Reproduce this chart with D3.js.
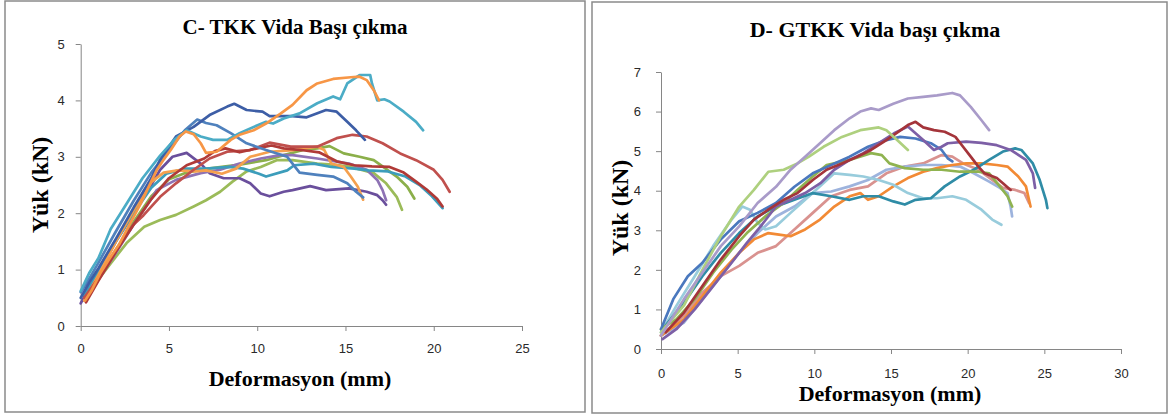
<!DOCTYPE html>
<html>
<head>
<meta charset="utf-8">
<script src="https://cdn.jsdelivr.net/npm/d3@7"></script>
<style>
  body { margin: 0; background: #fff; }
</style>
</head>
<body>
<div id="chart"></div>
<script>
// ---- panel C: TKK (x = deformasyon mm, y = yük kN) ----
const cDarkBlueX = [0,0.5,1,2,3,4,4.5,5.4,6.4,7.3,8.3,8.7,9.4,10.3,10.7,12,12.8,13.9,14.5,15.1,15.6,16.1];
const cDarkBlueY = [0.5,0.78,1.02,1.55,2.1,2.62,2.95,3.36,3.53,3.74,3.89,3.94,3.83,3.8,3.72,3.72,3.7,3.83,3.8,3.62,3.47,3.3];
const cBlueX = [0,0.5,1,2,3,4,5,5.9,6.6,7.1,7.7,8.5,9.4,10.5,11.7,12.4,13.4,14.3,15.1,15.6,16.0];
const cBlueY = [0.6,0.85,1.12,1.68,2.22,2.72,3.12,3.47,3.66,3.6,3.56,3.42,3.24,3.12,3.0,2.72,2.68,2.65,2.53,2.38,2.28];
const cOrangeX = [0.25,0.6,1.1,1.6,2.2,2.8,3.4,3.9,4.3,4.7,5.1,5.6,5.95,6.4,6.8,7.1,7.7,8.5,9.0,9.8,10.5,11.3,12.0,12.8,13.4,14.3,15.3,15.8,16.2,16.6,16.9];
const cOrangeY = [0.45,0.62,0.93,1.18,1.46,1.82,2.17,2.5,2.76,2.95,3.12,3.36,3.45,3.4,3.24,3.07,3.09,3.3,3.39,3.47,3.59,3.76,3.92,4.18,4.3,4.38,4.41,4.42,4.36,4.18,4.0];
const cAquaX = [0,0.5,1,1.7,2.5,3.5,4.5,5.3,6.0,6.8,7.5,8.3,9.0,9.8,10.5,10.9,11.5,12.4,13.4,14.3,14.7,15.1,15.8,16.4,16.5,16.8,17.2,17.5,18.3,19.0,19.4];
const cAquaY = [0.62,0.95,1.2,1.72,2.12,2.62,3.02,3.3,3.47,3.36,3.3,3.3,3.42,3.53,3.62,3.59,3.68,3.77,3.95,4.07,4.02,4.3,4.45,4.45,4.3,4.0,4.02,3.98,3.8,3.62,3.47];
const cRedX = [0.2,1,2,3,3.55,4.5,5.4,6.4,7.3,8.3,9.6,10.7,11.9,13.4,14.5,15.4,16.2,17.1,18.1,19.0,20.0,20.5,20.9];
const cRedY = [0.5,0.85,1.35,1.8,1.96,2.29,2.53,2.77,2.97,3.09,3.12,3.25,3.18,3.18,3.33,3.39,3.36,3.24,3.06,2.94,2.77,2.59,2.38];
const cDarkRedX = [0.3,1,2,3,4,5,6,7,7.6,8.2,9,10,10.8,11.5,12.5,13.5,14.5,15.5,16.5,17.5,18.3,19,19.6,20.2,20.5];
const cDarkRedY = [0.42,0.8,1.32,1.8,2.25,2.62,2.85,2.97,3.1,3.15,3.08,3.15,3.2,3.15,3.12,3.08,2.92,2.85,2.83,2.82,2.72,2.56,2.42,2.25,2.12];
const cGreenX = [0.2,0.7,1.7,2.6,3.6,4.5,5.4,6.4,7.1,7.9,8.6,9.4,10.2,11.1,12,13.4,14.3,15.3,16.6,17.3,17.9,18.2];
const cGreenY = [0.48,0.7,1.11,1.47,1.76,1.88,1.97,2.12,2.23,2.38,2.56,2.74,2.82,2.94,2.94,2.88,2.86,2.82,2.71,2.53,2.29,2.06];
const cGreen2X = [0.3,1,2,3,4,5,6,7,8,9,10.5,11.5,12.6,13.4,14.1,14.9,15.8,16.6,17.1,17.9,18.5,18.9];
const cGreen2Y = [0.5,0.85,1.35,1.85,2.3,2.6,2.72,2.78,2.82,2.86,2.94,3.03,3.12,3.15,3.19,3.06,3.0,2.94,2.83,2.65,2.47,2.26];
const cPurpleX = [0,0.5,1,2,3,4,4.5,5.2,6.0,6.8,7.3,8.1,9.0,9.6,10.2,10.7,11.5,12.0,13.0,13.9,15.2,16.2,16.8,17.1,17.3];
const cPurpleY = [0.4,0.7,0.95,1.5,2.0,2.5,2.77,3.0,3.07,2.88,2.71,2.62,2.62,2.53,2.35,2.3,2.38,2.41,2.48,2.41,2.44,2.38,2.32,2.23,2.15];
const cPurple2X = [0.2,1,2,3,4,4.3,5.4,6.8,7.9,9,10.2,11.3,12,13.4,15.2,16.2,16.8,17.1,17.3];
const cPurple2Y = [0.45,0.82,1.3,1.8,2.25,2.41,2.59,2.71,2.77,2.88,2.97,3.03,3.03,2.97,2.88,2.77,2.59,2.41,2.23];
const cAqua2X = [0.2,1,2,3,4,4.85,5.9,7.1,8.4,9.2,10.1,10.5,11.7,12.1,13.2,14.2,15.5,16.3,17.4,18.4,19.2,19.9,20.5];
const cAqua2Y = [0.55,0.95,1.5,2.0,2.45,2.7,2.79,2.79,2.82,2.79,2.7,2.65,2.76,2.85,2.88,2.82,2.79,2.76,2.74,2.65,2.5,2.3,2.09];
const cOrange2X = [0.2,1,2,3,4,4.7,5.5,6.5,7.1,8.0,8.8,9.6,10.7,12.1,13.4,13.8,14.2,14.9,15.3,15.7,16.0];
const cOrange2Y = [0.45,0.9,1.5,2.05,2.55,2.72,2.76,2.74,2.76,2.7,2.79,3.0,3.09,3.12,3.18,3.12,2.88,2.82,2.65,2.47,2.24];

// ---- panel D: GTKK ----
const dLavenderX = [0,1.5,2.7,3.9,5.1,6.3,7.5,8.45,9.4,10.37,11.3,12.3,13.0,13.7,14.2,15.15,16.1,17.1,18.0,19.0,19.5,20.2,20.9,21.4];
const dLavenderY = [0.34,1.26,1.93,2.6,3.1,3.69,4.1,4.53,4.86,5.2,5.53,5.83,6.0,6.08,6.04,6.2,6.33,6.37,6.41,6.47,6.41,6.12,5.78,5.53];
const dDarkRedX = [0.3,1.5,2.7,3.9,5.1,6.06,7.0,8.0,8.9,9.9,10.8,11.8,12.8,13.7,14.7,16.1,16.6,17.1,17.8,18.5,19.2,19.7,20.2,20.7,21.1,21.9,22.3,22.8];
const dDarkRedY = [0.42,0.92,1.59,2.26,2.85,3.27,3.52,3.77,3.94,4.27,4.53,4.69,4.86,5.03,5.28,5.66,5.74,5.6,5.53,5.49,5.36,5.11,4.86,4.61,4.44,4.32,4.19,4.02];
const dPurpleX = [0.1,1.0,2.2,3.4,4.6,5.6,6.5,7.5,8.45,9.4,10.4,11.3,12.3,13.2,14.2,15.2,16.1,17.1,17.8,18.3,18.7,19.9,20.9,21.9,22.8,23.8,24.25,24.4];
const dPurpleY = [0.25,0.5,1.0,1.59,2.18,2.68,3.1,3.6,3.77,3.94,4.19,4.53,4.78,4.95,5.2,5.45,5.62,5.28,5.03,5.11,5.2,5.24,5.21,5.15,5.03,4.78,4.44,4.07];
const dBlueX = [0,0.8,1.75,2.7,3.9,5.1,6.3,7.5,8.7,9.9,11.1,12.3,13.5,14.7,15.6,16.6,17.6,18.3,18.7,19.0];
const dBlueY = [0.5,1.26,1.84,2.18,2.77,3.23,3.44,3.69,4.1,4.44,4.65,4.86,5.11,5.28,5.36,5.32,5.2,5.03,4.82,4.74];
const dLightGreenX = [0,1.5,2.7,3.9,5.1,6.06,7.0,8.0,8.9,9.65,10.6,11.8,13.0,14.2,14.7,15.4,16.1];
const dLightGreenY = [0.42,1.1,2.0,2.85,3.6,4.02,4.48,4.53,4.69,4.86,5.11,5.36,5.53,5.6,5.53,5.28,5.03];
const dGreenX = [0,1.0,2.2,3.4,4.6,5.6,6.8,8.0,8.9,9.9,10.8,12.3,13.7,14.4,14.9,15.9,17.1,18.3,19.5,20.7,21.4,22.1,22.6,22.9];
const dGreenY = [0.5,0.75,1.26,1.93,2.51,2.93,3.35,3.69,4.02,4.36,4.65,4.78,4.95,4.9,4.69,4.57,4.53,4.53,4.48,4.48,4.44,4.11,3.86,3.6];
const dTealX = [0.3,1.5,2.7,3.9,5.1,6.3,7.5,8.7,9.9,11.1,12.3,13.2,14.2,15.15,15.9,16.6,17.6,18.5,19.5,20.4,21.4,22.3,23.1,23.5,24.25,24.7,25.1,25.2];
const dTealY = [0.59,1.17,1.84,2.43,2.93,3.35,3.6,3.77,3.94,3.86,3.77,3.86,3.86,3.73,3.65,3.77,3.81,4.11,4.36,4.53,4.78,4.99,5.07,5.03,4.69,4.27,3.77,3.56];
const dOrangeX = [0,1.5,2.7,3.9,5.1,6.06,7.0,7.7,8.45,9.4,10.37,11.3,12.3,13.0,13.5,14.2,15.15,16.1,17.1,18.0,19.0,19.9,20.9,21.9,22.6,23.3,23.8,24.0,24.1];
const dOrangeY = [0.34,0.75,1.34,1.93,2.43,2.77,2.93,2.89,2.85,3.02,3.27,3.6,3.86,3.94,3.77,3.86,4.11,4.32,4.48,4.57,4.65,4.69,4.69,4.65,4.61,4.36,4.11,3.77,3.6];
const dPinkX = [0,1.5,2.7,3.9,5.1,6.3,7.5,8.7,9.9,11.1,12.3,13.5,14.7,15.9,17.1,18.3,19.0,19.7,20.7,21.6,22.3,23.1,23.7,24.0];
const dPinkY = [0.34,0.84,1.43,1.84,2.1,2.43,2.6,3.02,3.44,3.86,4.02,4.11,4.44,4.61,4.69,4.9,4.86,4.69,4.53,4.27,4.07,4.02,3.94,3.69];
const dPeriX = [0,1.5,2.7,3.9,5.1,6.3,7.5,8.7,9.9,11.1,12.3,13.5,14.7,15.9,17.1,18.3,19.5,20.4,21.4,22.1,22.6,22.8,22.9];
const dPeriY = [0.34,0.67,1.26,1.84,2.43,2.93,3.35,3.6,3.94,3.98,4.11,4.27,4.53,4.61,4.65,4.65,4.61,4.44,4.23,4.07,3.94,3.6,3.35];
const dLightAquaX = [0,1.0,2.2,3.4,4.6,5.3,5.8,6.3,6.8,7.5,8.45,9.4,10.37,11.3,12.3,13.2,14.2,15.15,16.1,17.1,18.0,19.0,19.9,20.9,21.6,22.2];
const dLightAquaY = [0.42,1.09,1.84,2.6,3.27,3.6,3.52,3.19,3.02,3.1,3.44,3.77,4.11,4.44,4.4,4.36,4.27,4.15,3.94,3.81,3.81,3.86,3.77,3.52,3.27,3.14];

const cTicksX = [0, 5, 10, 15, 20, 25];
const cTicksY = [0, 1, 2, 3, 4, 5];
const dTicksX = [0, 5, 10, 15, 20, 25, 30];
const dTicksY = [0, 1, 2, 3, 4, 5, 6, 7];

const cColors = ["#9BBB59", "#8BAF4A", "#6A4F9C", "#8E72B4", "#3C9DBB", "#F5A04E",
                 "#C0504D", "#B03A37", "#4F81BD", "#3D5EA6", "#4BACC6", "#F79646"];
const cSeries = [
  [cGreenX, cGreenY], [cGreen2X, cGreen2Y], [cPurpleX, cPurpleY], [cPurple2X, cPurple2Y],
  [cAqua2X, cAqua2Y], [cOrange2X, cOrange2Y], [cRedX, cRedY], [cDarkRedX, cDarkRedY],
  [cBlueX, cBlueY], [cDarkBlueX, cDarkBlueY], [cAquaX, cAquaY], [cOrangeX, cOrangeY]
];

const dColors = ["#D9928F", "#9DB3DD", "#F28A35", "#98CCDC", "#2F8CA6", "#8FB350",
                 "#4A78BE", "#7D5FA6", "#A4343A", "#AED07E", "#A99BC9"];
const dSeries = [
  [dPinkX, dPinkY], [dPeriX, dPeriY], [dOrangeX, dOrangeY], [dLightAquaX, dLightAquaY],
  [dTealX, dTealY], [dGreenX, dGreenY], [dBlueX, dBlueY], [dPurpleX, dPurpleY],
  [dDarkRedX, dDarkRedY], [dLightGreenX, dLightGreenY], [dLavenderX, dLavenderY]
];

const svg = d3.select("#chart").append("svg")
    .attr("width", 1169)
    .attr("height", 419);

const serif = "'Liberation Serif', 'Times New Roman', serif";
const sans = "'Liberation Sans', Arial, sans-serif";

function drawPanel(p) {
    svg.append("rect")
        .attr("x", p.box[0]).attr("y", p.box[1])
        .attr("width", p.box[2]).attr("height", p.box[3])
        .attr("fill", "#fff")
        .attr("stroke", "#8a8a8a")
        .attr("stroke-width", 1.5);

    const x = d3.scaleLinear().domain(p.xDomain).range(p.xRange);
    const y = d3.scaleLinear().domain(p.yDomain).range(p.yRange);

    const g = svg.append("g");

    const xAxis = g.append("g")
        .attr("transform", "translate(0," + p.yRange[0] + ")")
        .call(d3.axisBottom(x).tickValues(p.xTicks).tickFormat(d3.format("d"))
            .tickSize(5).tickSizeOuter(0).tickPadding(p.xPad));
    const yAxis = g.append("g")
        .attr("transform", "translate(" + p.xRange[0] + ",0)")
        .call(d3.axisLeft(y).tickValues(p.yTicks).tickFormat(d3.format("d"))
            .tickSize(5).tickSizeOuter(0).tickPadding(p.yPad));

    [xAxis, yAxis].forEach(a => {
        a.select(".domain").attr("stroke", "#868686");
        a.selectAll(".tick line").attr("stroke", "#868686");
        a.selectAll(".tick text")
            .attr("fill", "#2a2a2a")
            .style("font-family", sans)
            .style("font-size", "13px");
    });

    const line = d3.line()
        .x(d => x(d[0]))
        .y(d => y(d[1]));

    g.selectAll("path.series")
        .data(p.series)
        .enter().append("path")
        .attr("class", "series")
        .attr("d", s => line(d3.zip(s[0], s[1])))
        .attr("fill", "none")
        .attr("stroke", (s, i) => p.colors[i])
        .attr("stroke-width", 2.7)
        .attr("stroke-linejoin", "round")
        .attr("stroke-linecap", "round");

    svg.append("text")
        .attr("x", p.title[1]).attr("y", p.title[2])
        .attr("text-anchor", "middle")
        .style("font-family", serif)
        .style("font-weight", "bold")
        .style("font-size", p.title[3] + "px")
        .text(p.title[0]);

    svg.append("text")
        .attr("x", p.xLabel[0]).attr("y", p.xLabel[1])
        .attr("text-anchor", "middle")
        .style("font-family", serif)
        .style("font-weight", "bold")
        .style("font-size", "22px")
        .text("Deformasyon (mm)");

    svg.append("text")
        .attr("transform", "translate(" + p.yLabel[0] + "," + p.yLabel[1] + ") rotate(-90)")
        .attr("text-anchor", "middle")
        .attr("dy", "0.35em")
        .style("font-family", serif)
        .style("font-weight", "bold")
        .style("font-size", "24px")
        .text("Yük (kN)");
}

drawPanel({
    box: [5, 1, 580, 411],
    xDomain: [0, 25], xRange: [80.7, 522],
    yDomain: [0, 5], yRange: [326, 44],
    xTicks: cTicksX, yTicks: cTicksY,
    xPad: 13, yPad: 11,
    series: cSeries, colors: cColors,
    title: ["C- TKK Vida Başı çıkma", 295, 34, 21],
    xLabel: [300, 386],
    yLabel: [40, 185]
});

drawPanel({
    box: [592, 2, 575, 411],
    xDomain: [0, 30], xRange: [661, 1121],
    yDomain: [0, 7], yRange: [349, 72],
    xTicks: dTicksX, yTicks: dTicksY,
    xPad: 15, yPad: 15,
    series: dSeries, colors: dColors,
    title: ["D- GTKK Vida başı çıkma", 875, 37, 22],
    xLabel: [890, 401],
    yLabel: [620, 208]
});
</script>
</body>
</html>
